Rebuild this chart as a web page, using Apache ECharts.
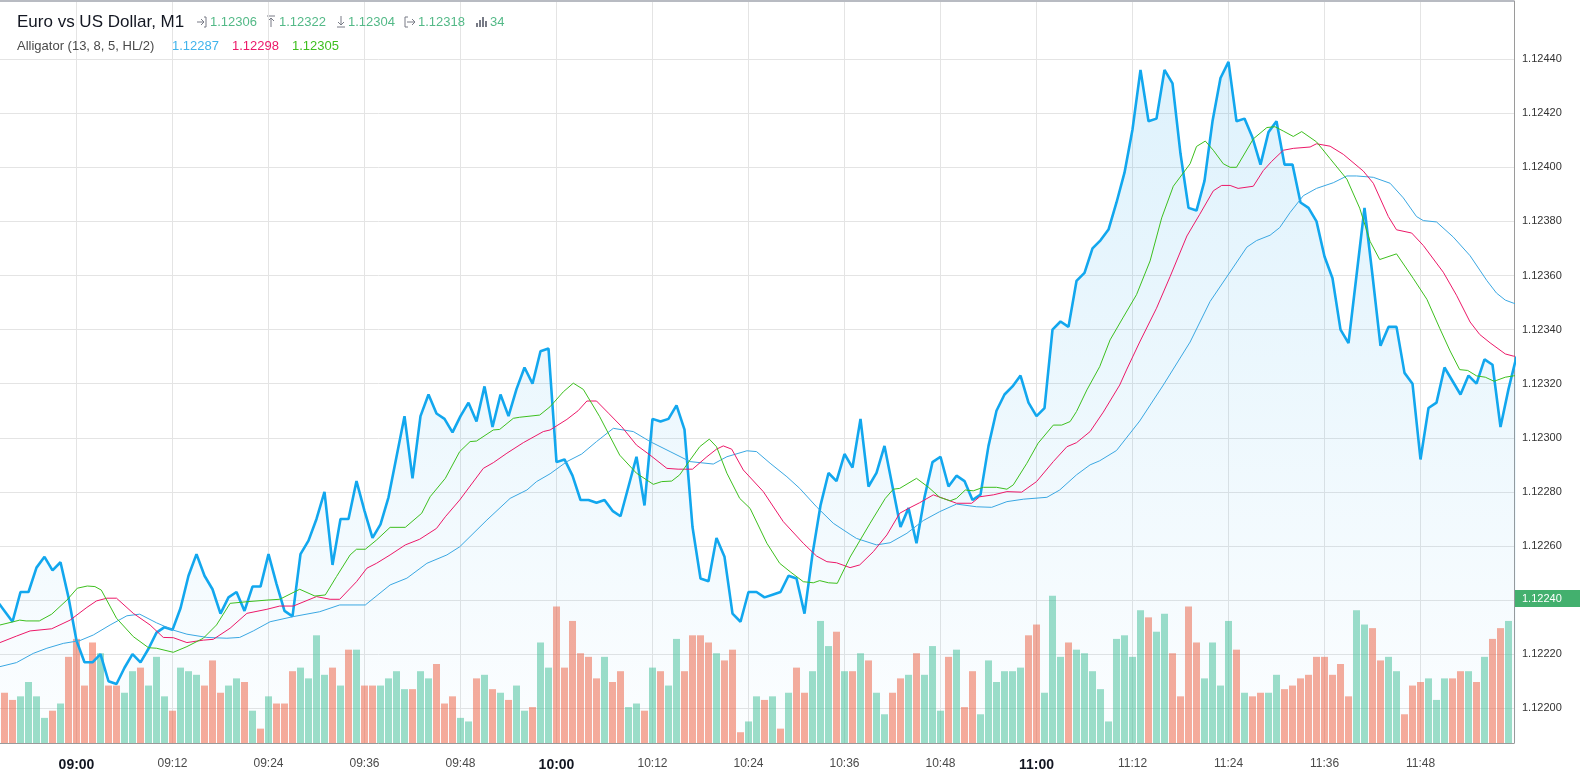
<!DOCTYPE html>
<html><head><meta charset="utf-8">
<script src="https://cdn.jsdelivr.net/npm/echarts@6/dist/echarts.min.js"></script>
<style>html,body{margin:0;padding:0;background:#fff;}#c{width:1580px;height:778px;}</style>
</head><body><div id="c"></div>
<script>
// ---- data (minute index k: 0 = 08:51) ----
const firstClosesIndex = -1;
const closes = [1.12240,
1.12236,1.12232,1.12243,1.12243,1.12252,1.12256,1.12251,1.12254,1.12241,1.12225,
1.12217,1.12217,1.12220,1.12210,1.12209,1.12215,1.12220,1.12217,1.12222,1.12228,
1.12230,1.12229,1.12237,1.12249,1.12257,1.12249,1.12244,1.12235,1.12241,1.12243,
1.12236,1.12245,1.12245,1.12257,1.12246,1.12236,1.12234,1.12257,1.12262,1.12270,
1.12280,1.12253,1.12270,1.12270,1.12284,1.12273,1.12263,1.12268,1.12278,1.12293,
1.12308,1.12285,1.12308,1.12316,1.12309,1.12307,1.12302,1.12308,1.12313,1.12306,
1.12319,1.12304,1.12316,1.12308,1.12318,1.12326,1.12320,1.12332,1.12333,1.12291,
1.12292,1.12286,1.12277,1.12277,1.12276,1.12277,1.12273,1.12271,1.12282,1.12293,
1.12275,1.12307,1.12306,1.12307,1.12312,1.12303,1.12267,1.12248,1.12247,1.12263,
1.12256,1.12235,1.12232,1.12243,1.12243,1.12241,1.12242,1.12243,1.12249,1.12248,
1.12235,1.12257,1.12275,1.12287,1.12284,1.12294,1.12289,1.12307,1.12282,1.12287,
1.12297,1.12282,1.12267,1.12274,1.12261,1.12278,1.12291,1.12293,1.12282,1.12286,
1.12284,1.12277,1.12279,1.12297,1.12310,1.12316,1.12319,1.12323,1.12313,1.12308,
1.12311,1.12340,1.12343,1.12341,1.12358,1.12361,1.12370,1.12373,1.12377,1.12387,
1.12398,1.12414,1.12436,1.12417,1.12418,1.12436,1.12431,1.12405,1.12385,1.12384,
1.12395,1.12417,1.12433,1.12439,1.12417,1.12418,1.12411,1.12401,1.12413,1.12417,
1.12401,1.12401,1.12387,1.12385,1.12380,1.12367,1.12359,1.12340,1.12335,1.12360,
1.12385,1.12360,1.12334,1.12341,1.12341,1.12324,1.12320,1.12292,1.12311,1.12313,
1.12326,1.12321,1.12316,1.12323,1.12320,1.12329,1.12327,1.12304,1.12318,1.12330];

const volumes = [
14,12,13,17,13,7,9,11,24,29, 16,28,25,16,16,14,20,21,16,24,
13,9,21,20,19,16,23,14,16,18, 17,9,4,13,11,11,20,21,18,30,
19,21,16,26,26,16,16,16,18,20, 15,15,20,18,22,11,13,7,6,18,
19,15,14,12,16,9,10,28,21,38, 21,34,25,24,18,24,17,20,10,11,
9,21,20,16,29,20,30,30,28,25, 23,26,3,6,13,12,13,4,14,21,
14,20,34,27,31,20,20,25,23,14, 8,14,18,19,25,19,27,9,24,26,
10,20,8,23,17,20,20,21,30,33, 14,41,24,28,26,25,20,15,6,29,
30,24,37,35,31,36,25,13,38,28, 18,28,16,34,26,14,13,14,14,19,
15,16,18,19,24,24,19,22,13,37, 33,32,23,24,20,8,16,17,18,12,
18,18,20,20,17,24,29,32,34];

// u = up (green) bar, d = down (red) bar, one char per minute
const volDir =
"dduuuududd" + "ddudduuduu" + "uduuuddduu" + "dududdduuu" + "udududduuu" +
"uduuddduud" + "ududuuduud" + "dddddudduu" + "duduuddddu" + "ddduududud" +
"duuudududu" + "udduduuudu" + "dduuuuuudd" + "uuuduuuuuu" + "uuuduudddd" +
"uuuududduu" + "dddddddddu" + "udduuddduu" + "uddududdu";

const lips = [[-0.56,1.122308],[1.1,1.122320],[1.9,1.122326],[2.7,1.122323],[4.35,1.122323],[5.9,1.122348],[7.8,1.122400],[9.1,1.122444],[10.35,1.122452],[11.3,1.122450],[12.1,1.122437],[14,1.122333],[16.1,1.122265],[18,1.122224],[19,1.122222],[21.1,1.122207],[22.8,1.122228],[24.85,1.122259],[26.5,1.122308],[28.2,1.122388],[30.3,1.122394],[32.8,1.122400],[34.4,1.122403],[36.9,1.122440],[38.8,1.122415],[40.1,1.122419],[41.5,1.122487],[43.2,1.122567],[44,1.122588],[45.1,1.122588],[46.5,1.122622],[48.2,1.122669],[50.1,1.122669],[52.15,1.122721],[53.2,1.122782],[55.1,1.122850],[56.9,1.122949],[58.2,1.122986],[59,1.122988],[61.1,1.123029],[61.9,1.123031],[63.6,1.123072],[64.4,1.123076],[66.9,1.123084],[68.2,1.123115],[69.85,1.123170],[71.1,1.123202],[72.35,1.123179],[74.4,1.123078],[76.9,1.122936],[79,1.122869],[81.1,1.122828],[82.15,1.122838],[83.4,1.122840],[84.4,1.122863],[85.7,1.122918],[86.9,1.122967],[88.1,1.122995],[89,1.122967],[90.3,1.122869],[91.9,1.122776],[93.2,1.122739],[95.3,1.122610],[96.9,1.122536],[98.2,1.122505],[99.85,1.122468],[101.1,1.122464],[101.9,1.122472],[103,1.122464],[104.1,1.122462],[105.7,1.122559],[108.2,1.122684],[110.1,1.122776],[111.1,1.122810],[111.9,1.122813],[114,1.122850],[115.5,1.122817],[116.9,1.122780],[118.2,1.122767],[119,1.122776],[120.1,1.122807],[121.1,1.122804],[122.35,1.122817],[124,1.122817],[125.3,1.122810],[126.1,1.122826],[127.8,1.122906],[129.2,1.122980],[131.1,1.123047],[132.15,1.123047],[133.2,1.123060],[134,1.123097],[135.3,1.123177],[136.9,1.123263],[138.2,1.123362],[139.85,1.123446],[141.5,1.123529],[143.2,1.123654],[144.65,1.123813],[146.1,1.123930],[148.2,1.124013],[149,1.124077],[150.1,1.124097],[151.1,1.124063],[152.35,1.124013],[153.2,1.124000],[154,1.124000],[156.1,1.124105],[157.8,1.124147],[158.8,1.124150],[159.85,1.124134],[161.1,1.124114],[162.15,1.124132],[164,1.124094],[165.7,1.124032],[167.8,1.123956],[169.4,1.123849],[170.7,1.123726],[171.9,1.123659],[174,1.123680],[176.1,1.123589],[177.8,1.123512],[179.4,1.123405],[180.7,1.123321],[181.9,1.123252],[182.9,1.123249],[184,1.123229],[185.1,1.123224],[186.2,1.123209],[187.6,1.123224],[188.6,1.123229],[190,1.123232]];

const teeth = [[-0.56,1.122243],[1.5,1.122267],[3.2,1.122286],[5.9,1.122294],[8.2,1.122326],[10.3,1.122373],[11.5,1.122397],[12.8,1.122407],[14,1.122407],[16.1,1.122351],[18.2,1.122308],[19.85,1.122262],[21.1,1.122261],[22.8,1.122243],[24.85,1.122252],[26.1,1.122255],[28.2,1.122296],[30.3,1.122351],[32.8,1.122366],[34.4,1.122378],[36.1,1.122378],[39,1.122413],[40.7,1.122403],[41.9,1.122403],[44,1.122468],[45.3,1.122518],[46.5,1.122536],[48.2,1.122567],[50.1,1.122604],[51.9,1.122625],[54,1.122665],[55.1,1.122708],[56.9,1.122770],[59.85,1.122887],[61.1,1.122908],[62.8,1.122943],[64.85,1.122982],[67.35,1.123023],[68.2,1.123029],[70.3,1.123068],[71.7,1.123100],[72.8,1.123136],[74,1.123136],[75.5,1.123091],[77.15,1.123041],[79,1.122973],[80.7,1.122936],[82.8,1.122887],[84.2,1.122884],[86,1.122884],[87.8,1.122930],[89,1.122958],[89.85,1.122970],[90.9,1.122958],[92.35,1.122881],[94.85,1.122801],[97.35,1.122690],[99.85,1.122610],[101.5,1.122563],[102.8,1.122542],[104,1.122538],[105.7,1.122520],[106.9,1.122530],[108.6,1.122579],[110.3,1.122641],[111.9,1.122721],[113,1.122739],[114.4,1.122760],[116.1,1.122789],[117.35,1.122776],[119,1.122758],[120.9,1.122758],[121.9,1.122782],[123.6,1.122789],[125.3,1.122801],[127.15,1.122799],[129,1.122838],[131.1,1.122912],[132.8,1.122967],[134,1.122982],[135.7,1.123023],[137.35,1.123095],[139.4,1.123195],[140.3,1.123254],[141.9,1.123354],[144,1.123479],[145.7,1.123596],[147.8,1.123746],[149.4,1.123826],[151.1,1.123913],[152.15,1.123933],[153.2,1.123933],[154.2,1.123922],[156.1,1.123930],[157.35,1.123988],[158.4,1.124022],[159.85,1.124063],[161.1,1.124070],[163.2,1.124075],[164,1.124087],[165.7,1.124078],[167.35,1.124048],[169.85,1.123986],[171.1,1.123941],[172.98,1.123818],[174,1.123769],[175.9,1.123757],[177.35,1.123711],[179.85,1.123612],[181.5,1.123527],[183.2,1.123428],[184.4,1.123382],[185.7,1.123351],[187.6,1.123310],[188.6,1.123302],[190,1.123299]];

const jaw = [[-0.56,1.122154],[1.5,1.122169],[3.6,1.122203],[5.3,1.122222],[7.35,1.122240],[9.4,1.122250],[11.1,1.122271],[13.2,1.122308],[15.3,1.122342],[16.9,1.122348],[19,1.122316],[21.1,1.122289],[22.8,1.122274],[25.3,1.122262],[27.8,1.122259],[29.4,1.122262],[31.1,1.122286],[33.2,1.122320],[36.1,1.122339],[39.4,1.122357],[41.9,1.122382],[45.1,1.122382],[48.2,1.122456],[50.3,1.122481],[52.8,1.122536],[55.3,1.122567],[56.9,1.122597],[60.3,1.122696],[63.2,1.122776],[65.3,1.122807],[66.5,1.122838],[68.2,1.122867],[70.3,1.122912],[72.15,1.122940],[74,1.122986],[76.1,1.123035],[78.6,1.123023],[80.7,1.122986],[83.2,1.122949],[85.7,1.122912],[88.6,1.122903],[90.3,1.122930],[92.8,1.122952],[94,1.122949],[95.7,1.122906],[97.8,1.122856],[99.4,1.122813],[101.5,1.122745],[103.6,1.122684],[105.7,1.122643],[106.5,1.122628],[109,1.122604],[110.7,1.122612],[112.8,1.122647],[114.85,1.122694],[116.9,1.122727],[119,1.122755],[121.5,1.122745],[123.4,1.122743],[125.3,1.122764],[127.35,1.122773],[130.3,1.122780],[131.9,1.122807],[134,1.122863],[135.7,1.122900],[136.9,1.122915],[139,1.122953],[141.9,1.123062],[144.85,1.123195],[148.2,1.123354],[150.7,1.123504],[153.2,1.123613],[155.3,1.123705],[156.5,1.123729],[158.2,1.123749],[159.4,1.123777],[160.7,1.123833],[162.35,1.123895],[164,1.123922],[166.1,1.123943],[167.8,1.123968],[169,1.123968],[171.1,1.123963],[173.2,1.123941],[174.85,1.123887],[176.5,1.123818],[177.35,1.123803],[179,1.123798],[181.1,1.123742],[183.2,1.123673],[185.3,1.123581],[186.5,1.123535],[187.6,1.123509],[188.6,1.123498],[190,1.123484]];

const timeTicks = [9,21,33,45,57,69,81,93,105,117,129,141,153,165,177];
const priceTicks = [1.1220,1.1222,1.1224,1.1226,1.1228,1.1230,1.1232,1.1234,1.1236,1.1238,1.1240,1.1242,1.1244];
const priceLabels = [1.1220,1.1222,1.1226,1.1228,1.1230,1.1232,1.1234,1.1236,1.1238,1.1240,1.1242,1.1244];
const lastPriceTag = '1.12240';
const title = 'Euro vs US Dollar, M1';
const ohlcv = ['1.12306','1.12322','1.12304','1.12318','34'];
const alliName = 'Alligator (13, 8, 5, HL/2)';
const alliVals = ['1.12287','1.12298','1.12305'];

// ---- styling ----
const FONT = '"Liberation Sans", Arial, sans-serif';
const UP = 'rgba(60,190,145,0.5)', DN = 'rgba(241,87,53,0.5)';
const C_PRICE = '#12a7ee', C_JAW = '#3aa7e2', C_TEETH = '#ec1868', C_LIPS = '#3dbf1e';
const GRIDC = '#e4e4e4', ICON = '#787b86', LEGG = '#53b987';
const START_MIN = 8*60+51;
const pad = n => (n<10?'0':'')+n;

const chart = echarts.init(document.getElementById('c'), null, {renderer:'canvas'});

function icon(kind, x) {
  const s = {stroke: ICON, lineWidth: 1, fill: null};
  const y = 22;
  if (kind === 'open') return [
    {type:'polyline', shape:{points:[[x,y],[x+7,y]]}, style:s},
    {type:'polyline', shape:{points:[[x+4,y-3],[x+7,y],[x+4,y+3]]}, style:s},
    {type:'polyline', shape:{points:[[x+7,y-5],[x+9,y-5],[x+9,y+5],[x+7,y+5]]}, style:s}];
  if (kind === 'high') return [
    {type:'polyline', shape:{points:[[x,y-6],[x+8,y-6]]}, style:s},
    {type:'polyline', shape:{points:[[x+4,y+5],[x+4,y-4]]}, style:s},
    {type:'polyline', shape:{points:[[x+1,y-1],[x+4,y-4],[x+7,y-1]]}, style:s}];
  if (kind === 'low') return [
    {type:'polyline', shape:{points:[[x,y+5],[x+8,y+5]]}, style:s},
    {type:'polyline', shape:{points:[[x+4,y-6],[x+4,y+3]]}, style:s},
    {type:'polyline', shape:{points:[[x+1,y],[x+4,y+3],[x+7,y]]}, style:s}];
  if (kind === 'close') return [
    {type:'polyline', shape:{points:[[x+3,y-5],[x,y-5],[x,y+5],[x+3,y+5]]}, style:s},
    {type:'polyline', shape:{points:[[x+2,y],[x+10,y]]}, style:s},
    {type:'polyline', shape:{points:[[x+7,y-3],[x+10,y],[x+7,y+3]]}, style:s}];
  return [[0,4],[3,7],[6,10],[9,6]].map(([dx,h]) => ({type:'rect', shape:{x:x+dx, y:y+5-h, width:2, height:h}, style:{fill:ICON}}));
}

const txt = (x, y, t, color, size, weight) => ({type:'text', x, y,
  style:{text:t, fill:color, fontSize:size, fontFamily:FONT, fontWeight:weight||'normal', verticalAlign:'middle', align:'left'}, z:10});

const graphics = [
  {type:'line', shape:{x1:0, y1:1, x2:1514, y2:1}, style:{stroke:'#b8bbc2', lineWidth:2}, z:10},
  txt(17, 22, title, '#131722', 17),
  ...icon('open', 197), txt(210, 22, ohlcv[0], LEGG, 13),
  ...icon('high', 267), txt(279, 22, ohlcv[1], LEGG, 13),
  ...icon('low', 337), txt(348, 22, ohlcv[2], LEGG, 13),
  ...icon('close', 405), txt(418, 22, ohlcv[3], LEGG, 13),
  ...icon('vol', 476), txt(490, 22, ohlcv[4], LEGG, 13),
  txt(17, 46, alliName, '#4a4a4a', 13),
  txt(172, 46, alliVals[0], '#3fb4ec', 13),
  txt(232, 46, alliVals[1], C_TEETH, 13),
  txt(292, 46, alliVals[2], C_LIPS, 13),
  {type:'rect', shape:{x:1515, y:590, width:65, height:17}, style:{fill:'#43b06e'}, z:10},
  txt(1522, 598.5, lastPriceTag, '#ffffff', 11)
];

const PMIN = 1.1218717, PMAX = 1.1246148;

chart.setOption({
  animation: false,
  backgroundColor: '#ffffff',
  grid: {left: 0, top: 1, right: 66, bottom: 35},
  xAxis: {
    type: 'value', min: -0.5625, max: 188.6875,
    axisLine: {show: true, onZero: false, lineStyle: {color: '#9a9a9a', width: 1}},
    axisTick: {show: false, customValues: timeTicks},
    splitLine: {show: true, lineStyle: {color: GRIDC, width: 1}},
    axisLabel: {
      customValues: timeTicks, margin: 15,
      formatter: v => { const m = START_MIN + Math.round(v); const hh = Math.floor(m/60), mm = m%60;
        return (mm === 0 ? '{b|' : '{n|') + pad(hh) + ':' + pad(mm) + '}'; },
      rich: {
        n: {fontSize: 12, color: '#4a4a4a', fontFamily: FONT},
        b: {fontSize: 14, color: '#131722', fontWeight: 'bold', fontFamily: FONT}
      }
    }
  },
  yAxis: [{
    type: 'value', position: 'right', min: PMIN, max: PMAX, scale: true,
    axisLine: {show: true, onZero: false, lineStyle: {color: '#9a9a9a', width: 1}},
    axisTick: {show: false, customValues: priceTicks},
    splitLine: {show: true, lineStyle: {color: GRIDC, width: 1}},
    axisLabel: {customValues: priceLabels, formatter: v => v.toFixed(5), color: '#333', fontSize: 11, fontFamily: FONT, margin: 8}
  }, {
    type: 'value', min: 0, max: 206.7, show: false, splitLine: {show: false},
    axisLine: {show: false, onZero: false}
  }],
  series: [
    {type: 'bar', name: 'Volume', yAxisIndex: 1, barWidth: 7, z: 1, silent: true, clip: true,
     data: volumes.map((v, i) => ({value: [i, v], itemStyle: {color: volDir[i] === 'u' ? UP : DN}}))},
    {type: 'line', name: 'Close', z: 3, symbol: 'none', clip: true, silent: true,
     data: closes.map((v, i) => [i + firstClosesIndex, v]),
     lineStyle: {color: C_PRICE, width: 2.6},
     areaStyle: {origin: 'start', color: new echarts.graphic.LinearGradient(0, 0, 0, 1, [
        {offset: 0, color: 'rgba(20,160,235,0.20)'}, {offset: 1, color: 'rgba(20,160,235,0.02)'}])}},
    {type: 'line', name: 'Jaw', z: 4, symbol: 'none', clip: true, silent: true, data: jaw, lineStyle: {color: C_JAW, width: 1}},
    {type: 'line', name: 'Teeth', z: 4, symbol: 'none', clip: true, silent: true, data: teeth, lineStyle: {color: C_TEETH, width: 1}},
    {type: 'line', name: 'Lips', z: 4, symbol: 'none', clip: true, silent: true, data: lips, lineStyle: {color: C_LIPS, width: 1}}
  ],
  graphic: graphics
});
</script></body></html>
